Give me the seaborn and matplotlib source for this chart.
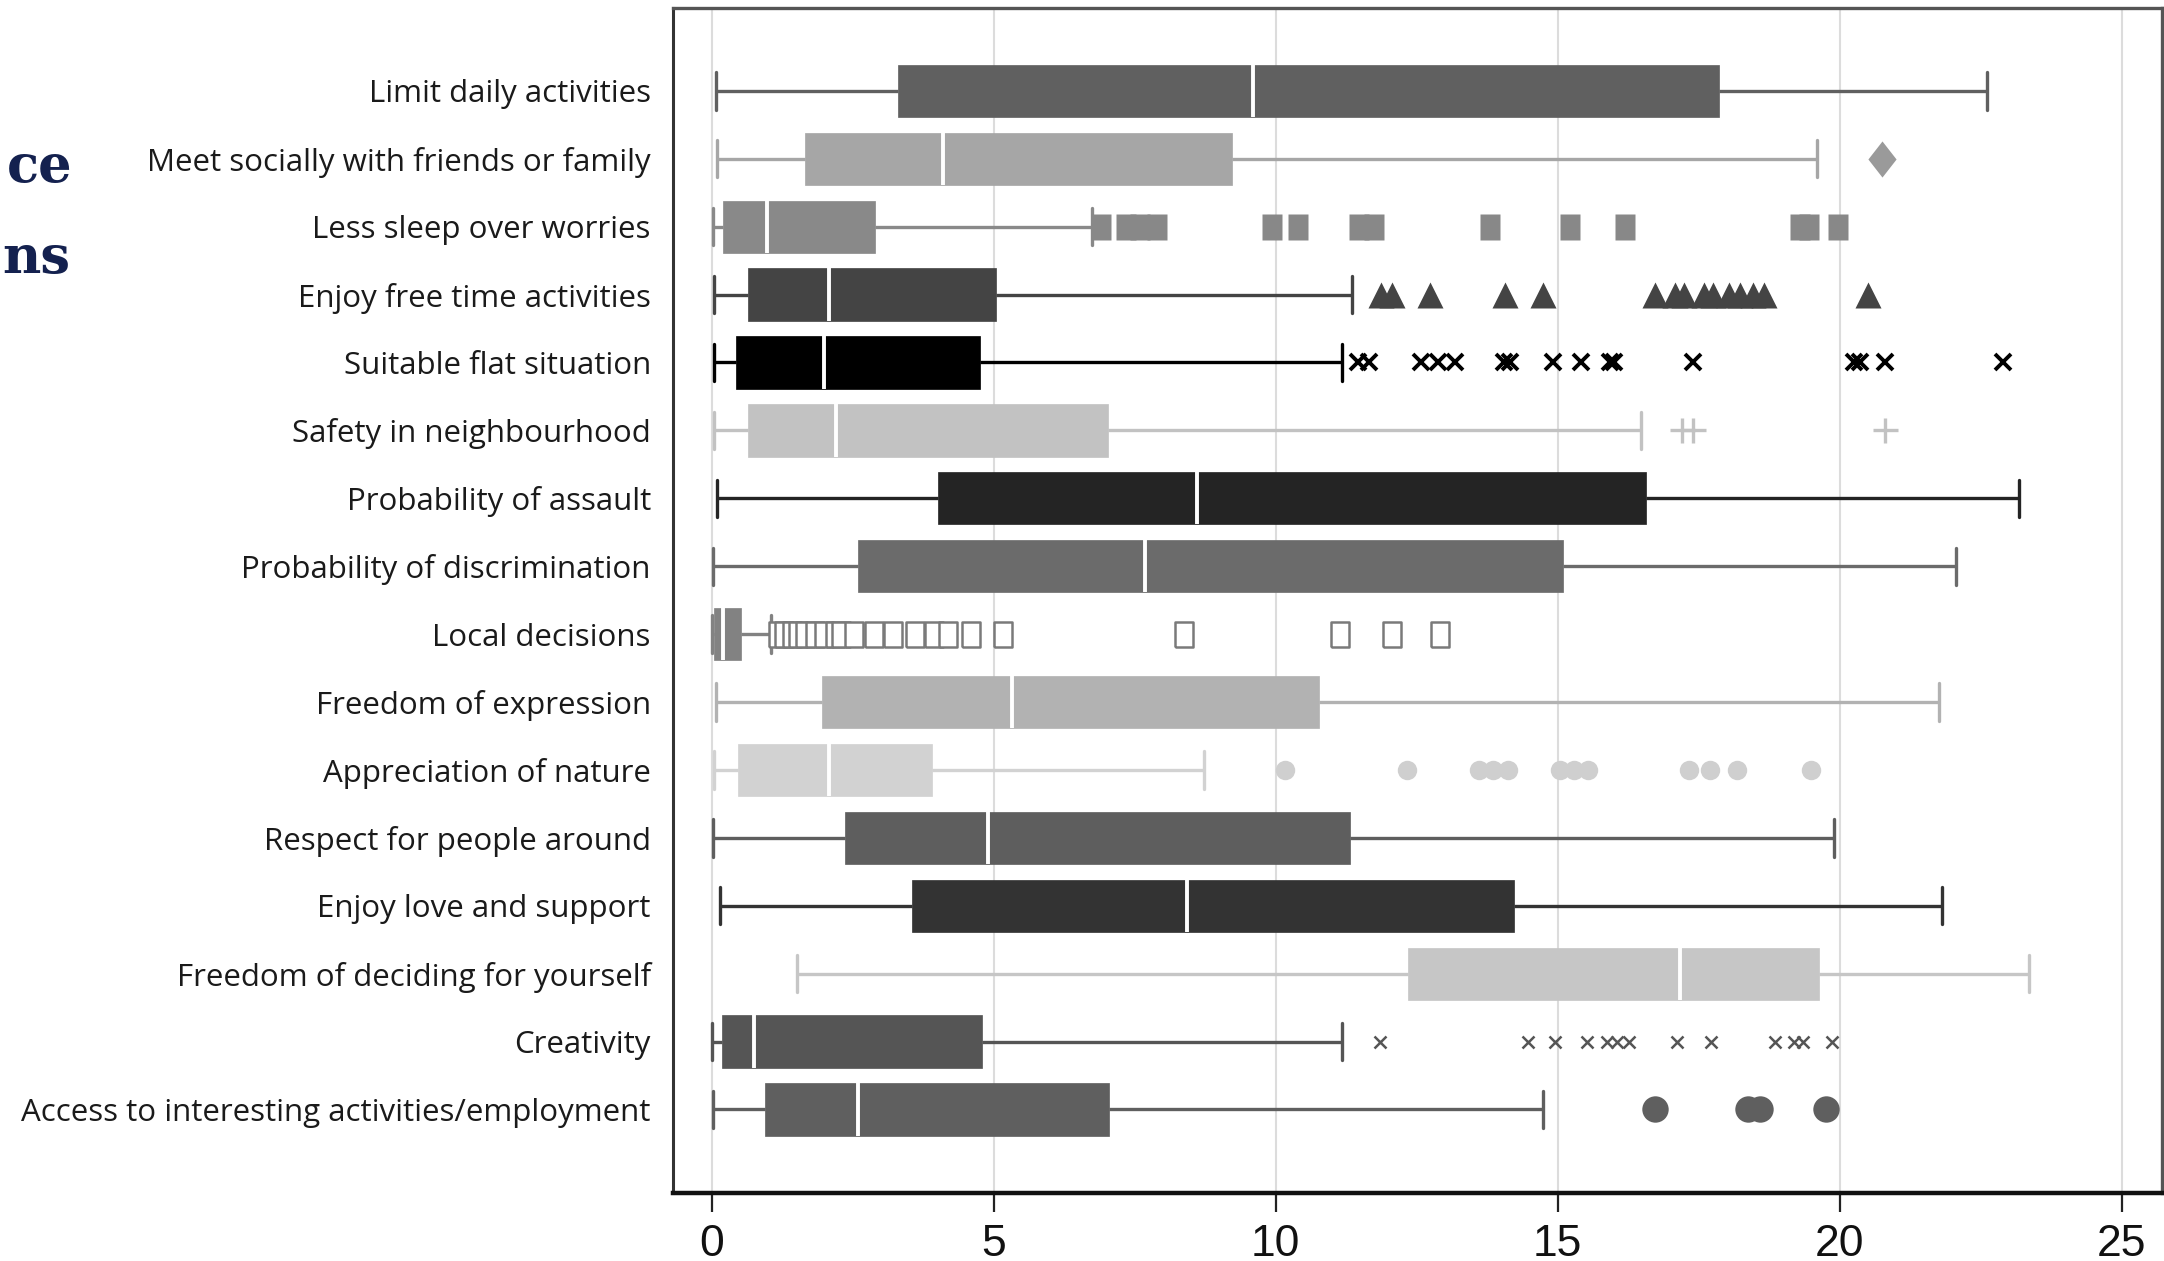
import numpy as np
import pandas as pd
import matplotlib
matplotlib.use("Agg")
import matplotlib.pyplot as plt
import seaborn as sns
from matplotlib import font_manager

# Categories, top to bottom
categories = [
    "Limit daily activities",
    "Meet socially with friends or family",
    "Less sleep over worries",
    "Enjoy free time activities",
    "Suitable flat situation",
    "Safety in neighbourhood",
    "Probability of assault",
    "Probability of discrimination",
    "Local decisions",
    "Freedom of expression",
    "Appreciation of nature",
    "Respect for people around",
    "Enjoy love and support",
    "Freedom of deciding for yourself",
    "Creativity",
    "Access to interesting activities/employment",
]

# Box summary values
whisker_low = [0.08, 0.10, 0.02, 0.05, 0.05, 0.05, 0.10, 0.02, 0.00, 0.08, 0.05, 0.02, 0.15, 1.52, 0.00, 0.02]
q1 = [3.31, 1.66, 0.21, 0.64, 0.44, 0.64, 4.01, 2.60, 0.05, 1.96, 0.47, 2.37, 3.55, 12.34, 0.18, 0.94]
median = [9.60, 4.10, 0.98, 2.08, 1.99, 2.20, 8.60, 7.69, 0.20, 5.33, 2.08, 4.90, 8.42, 17.16, 0.76, 2.59]
q3 = [17.86, 9.23, 2.89, 5.04, 4.76, 7.03, 16.57, 15.10, 0.53, 10.77, 3.91, 11.31, 14.22, 19.63, 4.79, 7.04]
whisker_high = [22.60, 19.60, 6.74, 11.35, 11.17, 16.47, 23.18, 22.05, 1.06, 21.76, 8.73, 19.90, 21.81, 23.35, 11.17, 14.73]

box_colors = ["#606060", "#a6a6a6", "#898989", "#444444", "#000000", "#c2c2c2",
              "#242424", "#6b6b6b", "#828282", "#b2b2b2", "#d2d2d2", "#5e5e5e",
              "#333333", "#c6c6c6", "#555555", "#5f5f5f"]

# Outliers
out_meet = [20.75]
out_sleep = [6.9, 7.35, 7.6, 7.9, 9.93, 10.4, 11.47, 11.75, 13.8, 15.22, 16.2, 19.3, 19.45, 19.96]
out_free = [11.86, 12.06, 12.73, 14.07, 14.74, 16.73, 17.08, 17.24, 17.6, 17.75, 18.04, 18.23, 18.46, 18.65, 20.5]
out_flat = [11.45, 11.65, 12.58, 12.87, 13.17, 14.05, 14.15, 14.92, 15.41, 15.93, 16.0, 17.4, 20.25, 20.35, 20.8, 22.9]
out_safety = [17.2, 17.4, 20.8]
out_local = [1.18, 1.29, 1.42, 1.54, 1.65, 1.83, 2.0, 2.18, 2.3, 2.53, 2.88, 3.22, 3.6, 3.95, 4.19, 4.6,
             5.16, 8.38, 11.14, 12.06, 12.92]
out_nature = [10.16, 12.33, 13.6, 13.85, 14.12, 15.04, 15.29, 15.54, 17.32, 17.69, 18.17, 19.49]
out_creativity = [11.85, 14.48, 14.95, 15.51, 15.88, 16.05, 16.27, 17.12, 17.71, 18.85, 19.19, 19.35, 19.86]
out_access = [16.73, 18.37, 18.59, 19.75]

x_ticks = [0, 5, 10, 15, 20, 25]

# marker shapes (taller than wide, like the source picture)
rect_marker = [(-0.78, -1), (0.78, -1), (0.78, 1), (-0.78, 1), (-0.78, -1)]
hollow_marker = [(-0.72, -1), (0.72, -1), (0.72, 1), (-0.72, 1), (-0.72, -1)]
diamond_marker = [(0, 1), (0.78, 0), (0, -1), (-0.78, 0), (0, 1)]

# (category, values, marker style)
outlier_sets = [
    ("Meet socially with friends or family", out_meet,
     dict(marker=diamond_marker, ms=26, mfc="#9a9a9a", mec="none")),
    ("Less sleep over worries", out_sleep,
     dict(marker=rect_marker, ms=19, mfc="#888888", mec="none")),
    ("Enjoy free time activities", out_free,
     dict(marker="^", ms=19, mfc="#444444", mec="none")),
    ("Suitable flat situation", out_flat,
     dict(marker="x", ms=12, mec="#000000", mew=2.8)),
    ("Safety in neighbourhood", out_safety,
     dict(marker="+", ms=18, mec="#c2c2c2", mew=2.4)),
    ("Local decisions", out_local,
     dict(marker=hollow_marker, ms=18, mfc="white", mec="#7a7a7a", mew=1.8)),
    ("Appreciation of nature", out_nature,
     dict(marker="o", ms=14, mfc="#cfcfcf", mec="none")),
    ("Creativity", out_creativity,
     dict(marker="x", ms=8, mec="#555555", mew=1.8)),
    ("Access to interesting activities/employment", out_access,
     dict(marker="o", ms=19, mfc="#5f5f5f", mec="none")),
]

available = {f.name for f in font_manager.fontManager.ttflist}
num_font = "Liberation Sans Narrow" if "Liberation Sans Narrow" in available else "Liberation Sans"
label_font = "Open Sans" if "Open Sans" in available else "DejaVu Sans"

sns.set_style("white")
plt.rcParams["font.family"] = [label_font, "DejaVu Sans"]

fig = plt.figure(figsize=(21.64, 12.61), dpi=100)
ax = fig.add_axes([673 / 2164, 1 - 1193 / 1261, (2162 - 673) / 2164, (1193 - 8) / 1261])

# five summary numbers per row -> exact quartiles with whis=(0, 100)
for i, cat in enumerate(categories):
    vals = [whisker_low[i], q1[i], median[i], q3[i], whisker_high[i]]
    c = box_colors[i]
    sns.boxplot(x=vals, y=[cat] * len(vals), order=categories, ax=ax,
                whis=(0, 100), width=0.77, color=c, linecolor=c, saturation=1,
                showfliers=False, linewidth=2.4,
                boxprops=dict(linewidth=0.5),
                medianprops=dict(color="white", linewidth=2.8),
                capwidths=0.55)

for cat, vals, style in outlier_sets:
    idx = categories.index(cat)
    ax.plot(vals, [idx] * len(vals), ls="none", zorder=4, **style)

ax.set_xlim(-0.684, 25.71)
ax.set_ylim(16.23, -1.22)
ax.set_xticks(x_ticks)
ax.set_xticklabels([str(t) for t in x_ticks], family=[num_font, "DejaVu Sans"], fontsize=32)
ax.set_xlabel("")
ax.set_ylabel("")

ax.grid(axis="x", color="#dcdcdc", linewidth=1.5)
ax.grid(axis="y", visible=False)
ax.set_axisbelow(True)

ax.tick_params(axis="x", direction="out", length=14, width=1.6, color="#222222",
               pad=8, bottom=True, labelcolor="#111111")
ax.tick_params(axis="y", length=0, pad=16, labelsize=22.5, labelcolor="#1a1a1a")

for name, col, lw in [("top", "#555555", 2.4), ("right", "#555555", 2.4),
                      ("left", "#333333", 2.2), ("bottom", "#111111", 3.2)]:
    ax.spines[name].set_visible(True)
    ax.spines[name].set_color(col)
    ax.spines[name].set_linewidth(lw)

# title fragments at the left edge (the rest lies outside the picture)
serif = "DejaVu Serif"
fig.text(7 / 2164, 1 - 182 / 1261, "ce", ha="left", va="baseline", fontsize=38,
         fontweight="bold", family=serif, color="#14214f")
fig.text(2 / 2164, 1 - 273 / 1261, "ns", ha="left", va="baseline", fontsize=38,
         fontweight="bold", family=serif, color="#14214f")

fig.savefig("out.png", dpi=100)
